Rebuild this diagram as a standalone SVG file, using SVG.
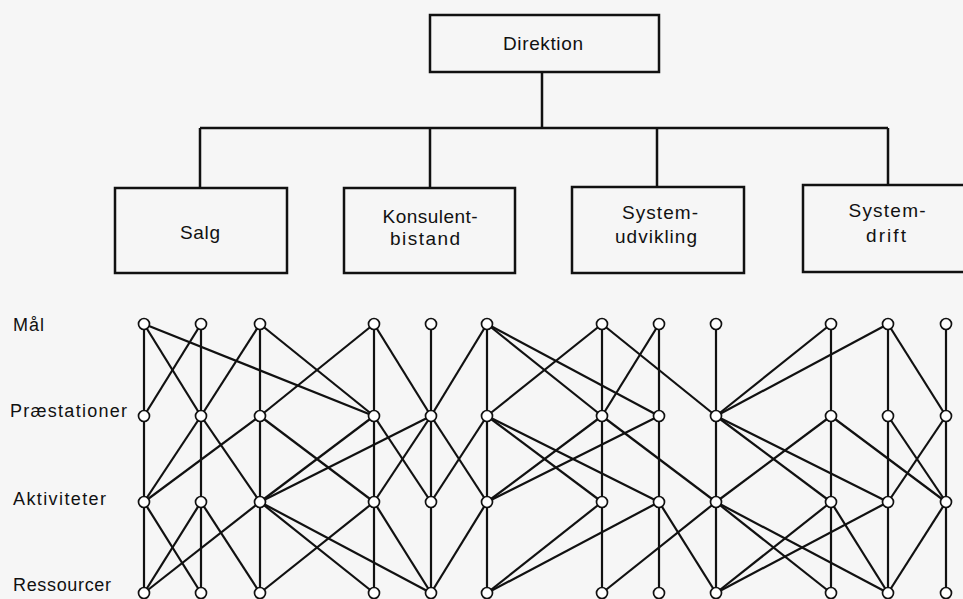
<svg xmlns="http://www.w3.org/2000/svg" width="963" height="599" viewBox="0 0 963 599">
<style>
.box{fill:none;stroke:#111;stroke-width:2.5}
.tree{fill:none;stroke:#111;stroke-width:2.5}
.t{font-family:"Liberation Sans",Arial,sans-serif;font-size:19px;fill:#111;text-anchor:middle}
.lab{font-family:"Liberation Sans",Arial,sans-serif;font-size:18px;fill:#111}
.e line{stroke:#111;stroke-width:2.2}
.n circle{fill:#fff;stroke:#111;stroke-width:1.7}
</style>
<rect width="963" height="599" fill="#f6f6f6"/>

<g id="tree" class="tree">
<path d="M542 72V128M200 128H888M200 128V188M430 128V188M657 128V187M888 128V185"/>
</g>

<g id="direktion"><rect class="box" x="430" y="15" width="229" height="57"/><text class="t" x="543" y="50" textLength="80">Direktion</text></g>
<g id="salg"><rect class="box" x="115" y="188" width="172" height="85"/><text class="t" x="200" y="239" textLength="40">Salg</text></g>
<g id="konsulentbistand"><rect class="box" x="344" y="188" width="171" height="85"/><text class="t" x="430" y="223" textLength="95">Konsulent-</text><text class="t" x="425" y="245" textLength="70">bistand</text></g>
<g id="systemudvikling"><rect class="box" x="572" y="187" width="172" height="86"/><text class="t" x="660" y="219" textLength="76">System-</text><text class="t" x="656" y="243" textLength="82">udvikling</text></g>
<g id="systemdrift"><rect class="box" x="803" y="185" width="200" height="87"/><text class="t" x="887" y="217" textLength="77">System-</text><text class="t" x="886" y="242" textLength="40">drift</text></g>

<g id="labels">
<text class="lab" x="13" y="331" textLength="31">Mål</text>
<text class="lab" x="10" y="417" textLength="117">Præstationer</text>
<text class="lab" x="13" y="505" textLength="93">Aktiviteter</text>
<text class="lab" x="13" y="591" textLength="98">Ressourcer</text>
</g>

<g id="connectors" class="e">
<line x1="144" y1="324" x2="144" y2="593"/>
<line x1="201" y1="324" x2="201" y2="593"/>
<line x1="260" y1="324" x2="260" y2="593"/>
<line x1="374" y1="324" x2="374" y2="593"/>
<line x1="431" y1="324" x2="431" y2="593"/>
<line x1="487" y1="324" x2="487" y2="593"/>
<line x1="602" y1="324" x2="602" y2="593"/>
<line x1="659" y1="324" x2="659" y2="593"/>
<line x1="716" y1="324" x2="716" y2="593"/>
<line x1="831" y1="324" x2="831" y2="593"/>
<line x1="888" y1="324" x2="888" y2="593"/>
<line x1="946" y1="324" x2="946" y2="593"/>
<line x1="144" y1="324" x2="201" y2="416"/>
<line x1="144" y1="324" x2="374" y2="416"/>
<line x1="201" y1="324" x2="144" y2="416"/>
<line x1="260" y1="324" x2="201" y2="416"/>
<line x1="260" y1="324" x2="374" y2="416"/>
<line x1="374" y1="324" x2="260" y2="416"/>
<line x1="374" y1="324" x2="431" y2="416"/>
<line x1="487" y1="324" x2="431" y2="416"/>
<line x1="487" y1="324" x2="602" y2="416"/>
<line x1="487" y1="324" x2="659" y2="416"/>
<line x1="602" y1="324" x2="487" y2="416"/>
<line x1="602" y1="324" x2="716" y2="416"/>
<line x1="659" y1="324" x2="602" y2="416"/>
<line x1="831" y1="324" x2="716" y2="416"/>
<line x1="888" y1="324" x2="716" y2="416"/>
<line x1="888" y1="324" x2="946" y2="416"/>
<line x1="201" y1="416" x2="144" y2="502"/>
<line x1="201" y1="416" x2="260" y2="502"/>
<line x1="260" y1="416" x2="144" y2="502"/>
<line x1="260" y1="416" x2="374" y2="502"/>
<line x1="374" y1="416" x2="260" y2="502"/>
<line x1="374" y1="416" x2="431" y2="502"/>
<line x1="431" y1="416" x2="260" y2="502"/>
<line x1="431" y1="416" x2="374" y2="502"/>
<line x1="431" y1="416" x2="487" y2="502"/>
<line x1="487" y1="416" x2="431" y2="502"/>
<line x1="487" y1="416" x2="602" y2="502"/>
<line x1="487" y1="416" x2="659" y2="502"/>
<line x1="602" y1="416" x2="487" y2="502"/>
<line x1="602" y1="416" x2="716" y2="502"/>
<line x1="659" y1="416" x2="487" y2="502"/>
<line x1="716" y1="416" x2="831" y2="502"/>
<line x1="716" y1="416" x2="888" y2="502"/>
<line x1="831" y1="416" x2="716" y2="502"/>
<line x1="831" y1="416" x2="946" y2="502"/>
<line x1="888" y1="416" x2="946" y2="502"/>
<line x1="946" y1="416" x2="888" y2="502"/>
<line x1="144" y1="502" x2="201" y2="593"/>
<line x1="201" y1="502" x2="144" y2="593"/>
<line x1="201" y1="502" x2="260" y2="593"/>
<line x1="260" y1="502" x2="144" y2="593"/>
<line x1="260" y1="502" x2="374" y2="593"/>
<line x1="260" y1="502" x2="431" y2="593"/>
<line x1="374" y1="502" x2="260" y2="593"/>
<line x1="374" y1="502" x2="431" y2="593"/>
<line x1="487" y1="502" x2="431" y2="593"/>
<line x1="602" y1="502" x2="487" y2="593"/>
<line x1="659" y1="502" x2="487" y2="593"/>
<line x1="659" y1="502" x2="716" y2="593"/>
<line x1="716" y1="502" x2="602" y2="593"/>
<line x1="716" y1="502" x2="831" y2="593"/>
<line x1="716" y1="502" x2="888" y2="593"/>
<line x1="831" y1="502" x2="716" y2="593"/>
<line x1="831" y1="502" x2="888" y2="593"/>
<line x1="888" y1="502" x2="716" y2="593"/>
<line x1="946" y1="502" x2="888" y2="593"/>
</g>

<g id="nodes" class="n">
<g id="maal"><circle cx="144" cy="324" r="5.5"/><circle cx="201" cy="324" r="5.5"/><circle cx="260" cy="324" r="5.5"/><circle cx="374" cy="324" r="5.5"/><circle cx="431" cy="324" r="5.5"/><circle cx="487" cy="324" r="5.5"/><circle cx="602" cy="324" r="5.5"/><circle cx="659" cy="324" r="5.5"/><circle cx="716" cy="324" r="5.5"/><circle cx="831" cy="324" r="5.5"/><circle cx="888" cy="324" r="5.5"/><circle cx="946" cy="324" r="5.5"/></g>
<g id="praestationer"><circle cx="144" cy="416" r="5.5"/><circle cx="201" cy="416" r="5.5"/><circle cx="260" cy="416" r="5.5"/><circle cx="374" cy="416" r="5.5"/><circle cx="431" cy="416" r="5.5"/><circle cx="487" cy="416" r="5.5"/><circle cx="602" cy="416" r="5.5"/><circle cx="659" cy="416" r="5.5"/><circle cx="716" cy="416" r="5.5"/><circle cx="831" cy="416" r="5.5"/><circle cx="888" cy="416" r="5.5"/><circle cx="946" cy="416" r="5.5"/></g>
<g id="aktiviteter"><circle cx="144" cy="502" r="5.5"/><circle cx="201" cy="502" r="5.5"/><circle cx="260" cy="502" r="5.5"/><circle cx="374" cy="502" r="5.5"/><circle cx="431" cy="502" r="5.5"/><circle cx="487" cy="502" r="5.5"/><circle cx="602" cy="502" r="5.5"/><circle cx="659" cy="502" r="5.5"/><circle cx="716" cy="502" r="5.5"/><circle cx="831" cy="502" r="5.5"/><circle cx="888" cy="502" r="5.5"/><circle cx="946" cy="502" r="5.5"/></g>
<g id="ressourcer"><circle cx="144" cy="593" r="5.5"/><circle cx="201" cy="593" r="5.5"/><circle cx="260" cy="593" r="5.5"/><circle cx="374" cy="593" r="5.5"/><circle cx="431" cy="593" r="5.5"/><circle cx="487" cy="593" r="5.5"/><circle cx="602" cy="593" r="5.5"/><circle cx="659" cy="593" r="5.5"/><circle cx="716" cy="593" r="5.5"/><circle cx="831" cy="593" r="5.5"/><circle cx="888" cy="593" r="5.5"/><circle cx="946" cy="593" r="5.5"/></g>
</g>
</svg>
